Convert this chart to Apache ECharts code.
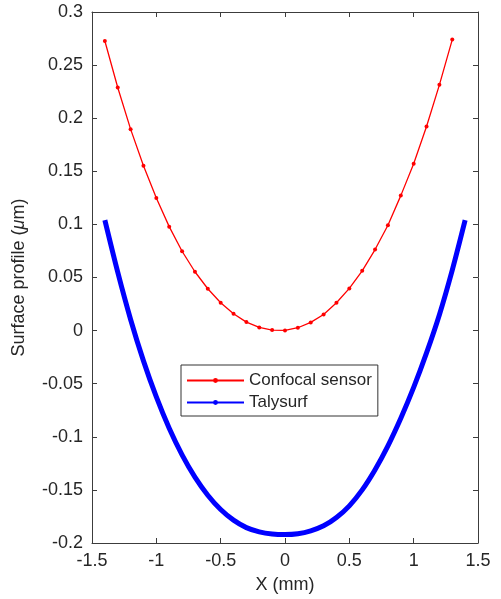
<!DOCTYPE html>
<html>
<head>
<meta charset="utf-8">
<script src="https://cdn.jsdelivr.net/npm/echarts@6/dist/echarts.min.js"></script>
<style>
html, body { margin: 0; padding: 0; background: #fff; }
#chart { width: 501px; height: 599px; }
</style>
</head>
<body>
<div id="chart"></div>
<script>
// confocal sensor (x in mm, profile in um)
var confocalX = [-1.4, -1.3, -1.2, -1.1, -1.0, -0.9, -0.8, -0.7, -0.6, -0.5, -0.4, -0.3, -0.2, -0.1,
	0.0, 0.1, 0.2, 0.3, 0.4, 0.5, 0.6, 0.7, 0.8, 0.9, 1.0, 1.1, 1.2, 1.3];
var confocalY = [0.2727, 0.2289, 0.1897, 0.1553, 0.1249, 0.0979, 0.0747, 0.0554, 0.0394, 0.0262, 0.0159, 0.0080, 0.0030, 0.0005,
	0.0002, 0.0027, 0.0077, 0.0152, 0.0262, 0.0397, 0.0563, 0.0763, 0.0992, 0.1271, 0.1571, 0.1922, 0.2314, 0.2740];

// talysurf
var talyX = [-1.4, -1.3, -1.2, -1.1, -1.0, -0.9, -0.8, -0.7, -0.6, -0.5, -0.4, -0.3, -0.2, -0.1,
	0.0, 0.1, 0.2, 0.3, 0.4, 0.5, 0.6, 0.7, 0.8, 0.9, 1.0, 1.1, 1.2, 1.3, 1.4];
var talyY = [0.1040, 0.0550, 0.0105, -0.0285, -0.0625, -0.0920, -0.1170, -0.1380, -0.1550, -0.1685, -0.1785, -0.1855, -0.1895, -0.1915,
	-0.1920, -0.1912, -0.1885, -0.1838, -0.1760, -0.1650, -0.1500, -0.1310, -0.1085, -0.0825, -0.0535, -0.0210, 0.0150, 0.0570, 0.1040];

var xTicks = { min: -1.5, max: 1.5, step: 0.5 };
var yTicks = { min: -0.2, max: 0.3, step: 0.05 };

function pairs(xs, ys) {
	var out = [];
	for (var i = 0; i < xs.length; i++) {
		out.push([xs[i], ys[i]]);
	}
	return out;
}

var axisColor = '#3c3c3c';
var textColor = '#262626';
var font = 'Liberation Sans, Arial, sans-serif';

function xAxisOpt(pos, show) {
	return {
		type: 'value',
		position: pos,
		min: xTicks.min, max: xTicks.max, interval: xTicks.step,
		axisLine: { show: true, onZero: false, lineStyle: { color: axisColor, width: 1 } },
		axisTick: { show: true, inside: true, length: 5, lineStyle: { color: axisColor } },
		axisLabel: { show: show, color: textColor, fontSize: 18, fontFamily: font, margin: 9 },
		splitLine: { show: false }
	};
}

function yAxisOpt(pos, show) {
	return {
		type: 'value',
		position: pos,
		min: yTicks.min, max: yTicks.max, interval: yTicks.step,
		axisLine: { show: true, onZero: false, lineStyle: { color: axisColor, width: 1 } },
		axisTick: { show: true, inside: true, length: 5, lineStyle: { color: axisColor } },
		axisLabel: { show: show, color: textColor, fontSize: 18, fontFamily: font, margin: 9 },
		splitLine: { show: false }
	};
}

var xBottom = xAxisOpt('bottom', true);
xBottom.name = 'X (mm)';
xBottom.nameLocation = 'middle';
xBottom.nameGap = 33;
xBottom.nameTextStyle = { color: textColor, fontSize: 18, fontFamily: font };

var yLeft = yAxisOpt('left', true);
yLeft.name = 'Surface profile ({i|μ}m)';
yLeft.nameLocation = 'middle';
yLeft.nameGap = 64;
yLeft.nameTextStyle = {
	color: textColor, fontSize: 18, fontFamily: font,
	rich: { i: { fontStyle: 'italic', fontSize: 18, fontFamily: font, color: textColor } }
};

var chart = echarts.init(document.getElementById('chart'));
chart.setOption({
	animation: false,
	backgroundColor: '#ffffff',
	grid: { left: 92, right: 23, top: 12, bottom: 55, containLabel: false },
	legend: {
		orient: 'vertical',
		left: 181, top: 365,
		padding: [7, 6, 5, 5],
		itemGap: 5,
		itemWidth: 57,
		itemHeight: 6,
		backgroundColor: '#ffffff',
		borderColor: '#333333',
		borderWidth: 1,
		borderRadius: 0,
		textStyle: { color: textColor, fontSize: 17, fontFamily: font, lineHeight: 14 },
		data: ['Confocal sensor', 'Talysurf']
	},
	xAxis: [xBottom, xAxisOpt('top', false)],
	yAxis: [yLeft, yAxisOpt('right', false)],
	series: [
		{
			name: 'Confocal sensor',
			type: 'line',
			xAxisIndex: 0, yAxisIndex: 0,
			data: pairs(confocalX, confocalY),
			symbol: 'circle',
			symbolSize: 4,
			lineStyle: { color: '#ff0000', width: 1.3 },
			itemStyle: { color: '#ff0000' }
		},
		{
			name: 'Talysurf',
			type: 'line',
			xAxisIndex: 0, yAxisIndex: 0,
			data: pairs(talyX, talyY),
			symbol: 'circle',
			symbolSize: 4,
			showSymbol: false,
			smooth: 0.3,
			lineStyle: { color: '#0000ff', width: 5 },
			itemStyle: { color: '#0000ff' }
		}
	]
});
</script>
</body>
</html>
